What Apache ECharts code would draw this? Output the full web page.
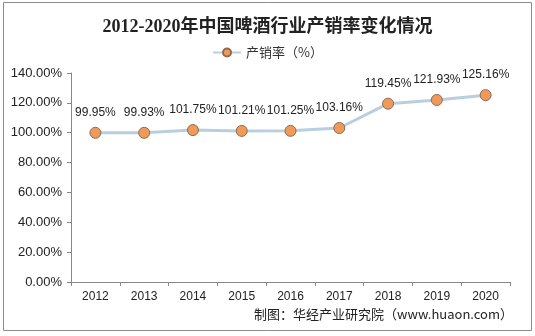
<!DOCTYPE html>
<html>
<head>
<meta charset="utf-8">
<script src="https://cdn.jsdelivr.net/npm/echarts@6/dist/echarts.min.js"></script>
<style>
  html, body { margin: 0; padding: 0; background: #fff; }
  #chart { width: 535px; height: 336px; }
</style>
</head>
<body>
<div id="chart"></div>
<script>
// Beer industry production-to-sales ratio, 2012–2020
const years = ['2012', '2013', '2014', '2015', '2016', '2017', '2018', '2019', '2020'];
const salesRatio = [99.95, 99.93, 101.75, 101.21, 101.25, 103.16, 119.45, 121.93, 125.16];
const seriesName = '产销率（%）';
const titleText = '2012-2020年中国啤酒行业产销率变化情况';
const sourceText = '制图：华经产业研究院（www.huaon.com）';

const chart = echarts.init(document.getElementById('chart'), null, { renderer: 'canvas' });

chart.setOption({
  backgroundColor: '#ffffff',
  animation: false,
  title: {
    text: titleText,
    left: 'center',
    top: 13,
    textStyle: {
      fontFamily: '"Liberation Serif", "Noto Sans CJK SC", serif',
      fontSize: 18,
      fontWeight: 'bold',
      color: '#222'
    }
  },
  legend: {
    top: 41,
    left: 'center',
    itemWidth: 28,
    itemHeight: 10,
    textStyle: { fontFamily: '"Noto Sans CJK SC"', fontSize: 13, color: '#333' },
    data: [seriesName]
  },
  graphic: [
    {
      type: 'rect',
      shape: { x: 3.5, y: 2.5, width: 528, height: 328 },
      style: { fill: 'none', stroke: '#8c8c8c', lineWidth: 1 },
      silent: true
    },
    {
      type: 'text',
      right: 22,
      top: 308,
      style: {
        text: sourceText,
        font: '13px "Noto Sans CJK SC"',
        fill: '#222'
      }
    }
  ],
  grid: { left: 71, right: 25, top: 73, bottom: 54, containLabel: false },
  xAxis: {
    type: 'category',
    data: years,
    boundaryGap: true,
    axisLine: { lineStyle: { color: '#888', width: 1 } },
    axisTick: { show: true, length: 4, lineStyle: { color: '#888' } },
    axisLabel: { color: '#222', fontFamily: 'Liberation Sans, Arial', fontSize: 12, margin: 9 }
  },
  yAxis: {
    type: 'value',
    min: 0,
    max: 140,
    interval: 20,
    splitLine: { show: false },
    axisLine: { show: true, lineStyle: { color: '#888', width: 1 } },
    axisTick: { show: true, length: 4, lineStyle: { color: '#888' } },
    axisLabel: {
      color: '#222',
      fontFamily: 'Liberation Sans, Arial',
      fontSize: 13,
      margin: 9,
      formatter: v => v.toFixed(2) + '%'
    }
  },
  series: [{
    name: seriesName,
    type: 'line',
    data: salesRatio,
    symbol: 'circle',
    symbolSize: 11,
    lineStyle: { color: '#b9cfe0', width: 3 },
    itemStyle: { color: '#f09a5a', borderColor: '#8e6a55', borderWidth: 1 },
    label: {
      show: true,
      position: 'top',
      distance: 8,
      color: '#222',
      fontFamily: 'Liberation Sans, Arial',
      fontSize: 12,
      formatter: p => p.value.toFixed(2) + '%'
    }
  }]
});
</script>
</body>
</html>
